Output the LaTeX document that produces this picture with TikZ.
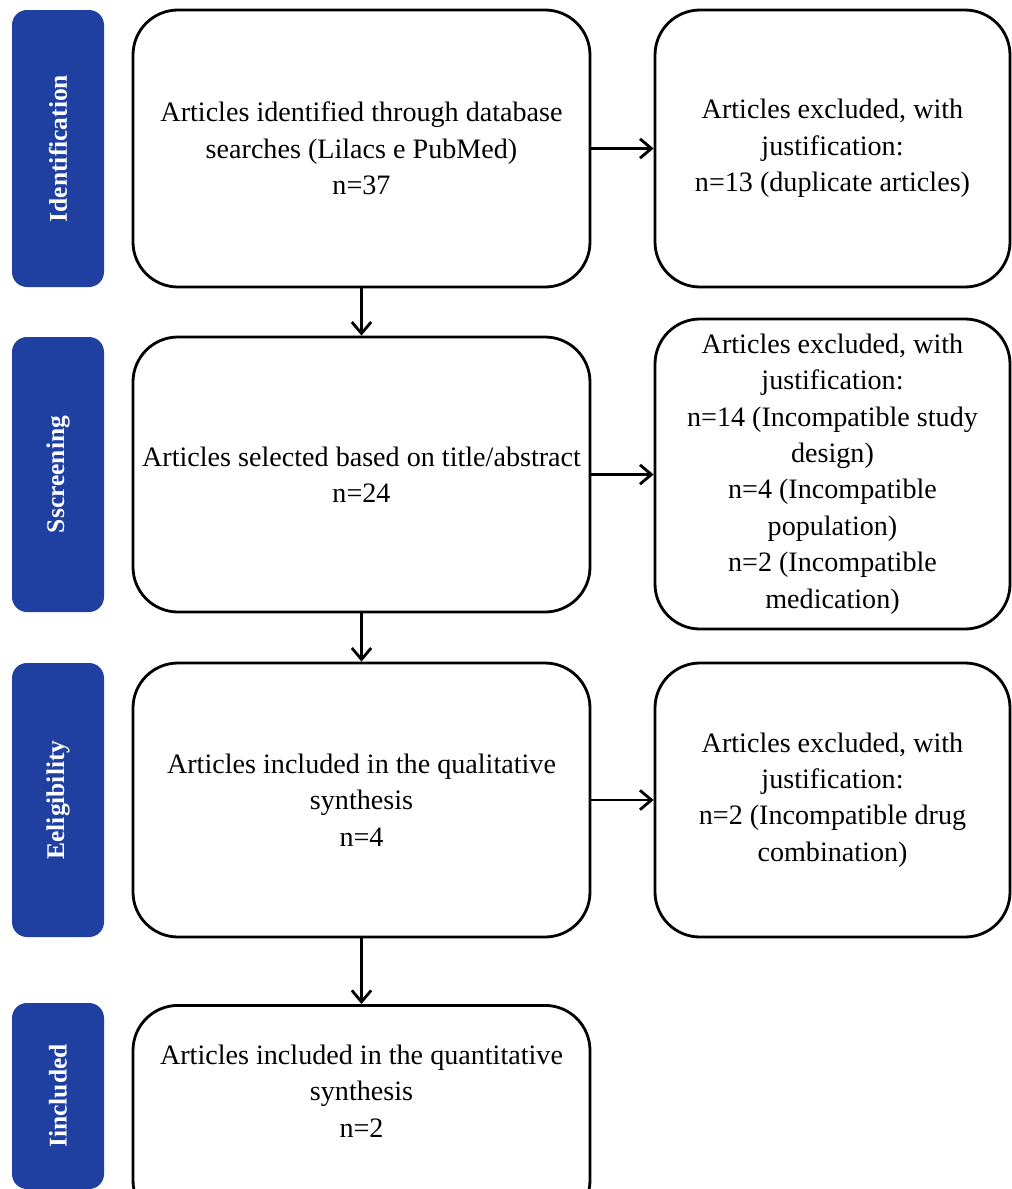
\documentclass[tikz,border=0pt]{standalone}
\usepackage{fontspec}
\setmainfont{Liberation Serif}
\usetikzlibrary{positioning, arrows.meta, calc}
\definecolor{stage-color}{RGB}{31,63,161}

\begin{document}
\begin{tikzpicture}[
    stage/.style={rectangle, fill=stage-color, rounded corners=0.3cm, minimum width=#1, minimum height=1.84cm, text=white, font=\fontsize{14.5}{17}\selectfont\bfseries, rotate=90},
    mainbox/.style={rectangle, draw=black, line width=1.6pt, rounded corners=0.9cm, minimum width=9.14cm, minimum height=#1, align=center, font=\fontsize{16}{20.7}\selectfont},
    exclbox/.style={rectangle, draw=black, line width=1.6pt, rounded corners=0.9cm, minimum width=7.1cm, minimum height=#1, align=center, font=\fontsize{16}{20.7}\selectfont},
    boxtext/.style={align=center, font=\fontsize{16}{20.7}\selectfont},
    arrow/.style={-{Straight Barb[length=6.5pt, width=11pt]}, line width=1.6pt}]

    % Page frame
    \useasboundingbox[fill=white] (0,0) rectangle (20.24,-23.78);

    % Stage labels on the left
    \node[stage=5.54cm] (s1) at (1.16,-2.97) {Identification};
    \node[stage=5.5cm] (s2) at (1.16,-9.49) {Sscreening};
    \node[stage=5.48cm] (s3) at (1.16,-16.0) {Eeligibility};
    \node[stage=3.72cm] (s4) at (1.16,-21.92) {Iincluded};

    % Main flow boxes
    \node[mainbox=5.54cm] (ident) at (7.23,-2.97) {Articles identified through database\\searches (Lilacs e PubMed)\\n=37};
    \node[mainbox=5.5cm] (screen) at (7.23,-9.49) {Articles selected based on title/abstract\\n=24};
    \node[mainbox=5.48cm] (elig) at (7.23,-16.0) {Articles included in the qualitative\\synthesis\\n=4};
    \node[mainbox=4.4cm, anchor=north] (incl) at (7.23,-20.08) {};
    \node[boxtext] (incltext) at (7.23,-21.82) {Articles included in the quantitative\\synthesis\\n=2};

    % Exclusion boxes on the right
    \node[exclbox=5.54cm] (ex1) at (16.65,-2.97) {Articles excluded, with\\justification:\\n=13 (duplicate articles)};
    \node[exclbox=6.2cm] (ex2) at (16.65,-9.48) {Articles excluded, with\\justification:\\n=14 (Incompatible study\\design)\\n=4 (Incompatible\\population)\\n=2 (Incompatible\\medication)};
    \node[exclbox=5.48cm] (ex3) at (16.65,-16.0) {Articles excluded, with\\justification:\\n=2 (Incompatible drug\\combination)};

    % Arrows down the main flow
    \draw[arrow] (ident) -- (screen);
    \draw[arrow] (screen) -- (elig);
    \draw[arrow] (elig) -- (incl);

    % Arrows to the exclusions
    \draw[arrow] (ident.east) -- (ident.east -| ex1.west);
    \draw[arrow] (screen.east) -- (screen.east -| ex2.west);
    \draw[arrow] (elig.east) -- (elig.east -| ex3.west);
\end{tikzpicture}
\end{document}
